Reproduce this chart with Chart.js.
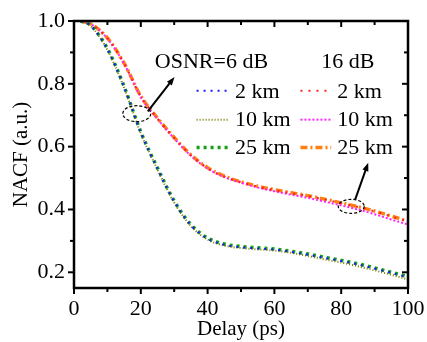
<!DOCTYPE html>
<html lang="en">
<head>
<meta charset="UTF-8">
<script src="https://cdn.jsdelivr.net/npm/chart.js@4.4.1/dist/chart.umd.min.js"></script>
<style>
  body{ margin:0; padding:0; background:white; }
  #wrap{ width:427px; height:342px; }
</style>
</head>
<body>
<div id="wrap"><canvas id="mychart"></canvas></div>
<script>
// delay axis (ps)
const delay = [2,5,10,15,20,25,30,35,40,45,50,55,60,65,70,75,80,85,90,95,100];
// OSNR = 6 dB
const osnr6_2km  = [1.0,0.985,0.91,0.79,0.645,0.53,0.425,0.35,0.307,0.288,0.280,0.276,0.272,0.265,0.256,0.246,0.236,0.225,0.212,0.198,0.184];
const osnr6_10km = [1.0,0.984,0.908,0.787,0.642,0.527,0.422,0.347,0.304,0.285,0.277,0.273,0.269,0.262,0.252,0.241,0.231,0.219,0.206,0.192,0.177];
const osnr6_25km = [1.0,0.986,0.912,0.792,0.647,0.532,0.427,0.352,0.309,0.290,0.282,0.278,0.274,0.267,0.258,0.248,0.238,0.227,0.214,0.200,0.186];
// OSNR = 16 dB
const osnr16_2km  = [1.0,0.99,0.945,0.865,0.76,0.69,0.628,0.573,0.532,0.505,0.487,0.473,0.462,0.452,0.443,0.432,0.420,0.408,0.394,0.378,0.362];
const osnr16_10km = [1.0,0.99,0.944,0.864,0.758,0.688,0.626,0.571,0.530,0.503,0.485,0.470,0.458,0.447,0.437,0.425,0.413,0.400,0.385,0.368,0.352];
const osnr16_25km = [1.0,0.991,0.946,0.866,0.761,0.691,0.629,0.574,0.533,0.506,0.488,0.474,0.463,0.453,0.444,0.433,0.421,0.409,0.395,0.379,0.363];
const xTicks = [0,20,40,60,80,100];
const yTicks = [0.2,0.4,0.6,0.8,1.0];

const FONT = "'Liberation Serif', 'Times New Roman', serif";

function pts(vals){ return delay.map((d,i)=>({x:d,y:vals[i]})); }
function ds(label, vals, color, width, dash){
  return { label, data: pts(vals), borderColor: color, borderWidth: width, borderDash: dash,
           pointRadius: 0, fill: false, cubicInterpolationMode: 'monotone' };
}
const sets = [
  ds('6 dB 2 km',  osnr6_2km,  '#1a1aff', 2, [2,5]),
  ds('6 dB 10 km', osnr6_10km, '#7a7a00', 2, [1,2]),
  ds('6 dB 25 km', osnr6_25km, '#13a013', 3.5, [3,4]),
  ds('16 dB 2 km',  osnr16_2km,  '#ff2020', 2, [2,6]),
  ds('16 dB 10 km', osnr16_10km, '#ff22ff', 2, [2,2]),
  ds('16 dB 25 km', osnr16_25km, '#ff8010', 3.5, [7,3,2,3])
];

const decor = {
  id: 'decor',
  afterDraw(chart){
    const ctx = chart.ctx, xs = chart.scales.x, ys = chart.scales.y, a = chart.chartArea;
    const X = v => xs.getPixelForValue(v), Y = v => ys.getPixelForValue(v);
    ctx.save();
    // frame
    ctx.strokeStyle = '#000'; ctx.lineWidth = 2.5; ctx.setLineDash([]);
    ctx.strokeRect(a.left, a.top, a.right - a.left, a.bottom - a.top);
    // ticks
    ctx.lineWidth = 2;
    for (let v = 0; v <= 100; v += 10){
      const p = X(v), L = v % 20 === 0 ? 6 : 4;
      ctx.beginPath(); ctx.moveTo(p, a.bottom); ctx.lineTo(p, a.bottom + L); ctx.stroke();
      ctx.beginPath(); ctx.moveTo(p, a.top); ctx.lineTo(p, a.top + L); ctx.stroke();
    }
    for (let v = 0.2; v <= 1.001; v += 0.1){
      const p = Y(v), L = Math.round(v*10) % 2 === 0 ? 6 : 4;
      ctx.beginPath(); ctx.moveTo(a.left, p); ctx.lineTo(a.left - L, p); ctx.stroke();
      ctx.beginPath(); ctx.moveTo(a.right, p); ctx.lineTo(a.right - L, p); ctx.stroke();
    }
    // headers
    ctx.fillStyle = '#000'; ctx.font = '22px ' + FONT; ctx.textBaseline = 'middle'; ctx.textAlign = 'left';
    ctx.fillText('OSNR=6 dB', X(24.2), Y(0.87));
    ctx.fillText('16 dB', X(74), Y(0.87));
    // legend rows
    const rows = [0.778, 0.686, 0.597];
    sets.forEach((s, i) => {
      const col = i < 3 ? 0 : 1, r = i % 3;
      const x0 = col ? X(67.8) : X(36.7), x1 = col ? X(77) : X(46), tx = col ? X(78.8) : X(48.2);
      const y = Y(rows[r]);
      ctx.strokeStyle = s.borderColor; ctx.lineWidth = s.borderWidth; ctx.setLineDash(s.borderDash);
      ctx.beginPath(); ctx.moveTo(x0, y); ctx.lineTo(x1, y); ctx.stroke();
      ctx.fillText(['2 km','10 km','25 km'][r], tx, y + 1);
    });
    // ellipses and arrows
    ctx.strokeStyle = '#000'; ctx.lineWidth = 1.2; ctx.setLineDash([3,2]);
    ctx.beginPath(); ctx.ellipse(X(18.8), Y(0.705), 14, 8, 0, 0, Math.PI*2); ctx.stroke();
    ctx.beginPath(); ctx.ellipse(X(83), Y(0.41), 13, 7, 0, 0, Math.PI*2); ctx.stroke();
    ctx.setLineDash([]); ctx.lineWidth = 2;
    function arrow(x0,y0,x1,y1){
      const ang = Math.atan2(y1-y0, x1-x0), h = 9;
      ctx.beginPath(); ctx.moveTo(x0,y0); ctx.lineTo(x1 - 4*Math.cos(ang), y1 - 4*Math.sin(ang)); ctx.stroke();
      ctx.beginPath(); ctx.moveTo(x1,y1);
      ctx.lineTo(x1 - h*Math.cos(ang-0.35), y1 - h*Math.sin(ang-0.35));
      ctx.lineTo(x1 - h*Math.cos(ang+0.35), y1 - h*Math.sin(ang+0.35));
      ctx.closePath(); ctx.fillStyle = '#000'; ctx.fill();
    }
    arrow(X(22.1), Y(0.712), X(30.1), Y(0.822));
    arrow(X(84.2), Y(0.432), X(88.1), Y(0.549));
    ctx.restore();
  }
};

const mychart = document.getElementById('mychart').getContext('2d');
const chart = new Chart(mychart, {
  type: 'line',
  data: { datasets: sets },
  options: {
    responsive: true, maintainAspectRatio: false, animation: false,
    layout: { padding: { top: 21, right: 19, left: 0, bottom: 0 } },
    plugins: { legend: { display: false }, tooltip: { enabled: false } },
    scales: {
      x: {
        type: 'linear', min: 0, max: 100,
        afterBuildTicks: s => { s.ticks = xTicks.map(v => ({ value: v })); },
        afterFit: s => { s.height = 54; s.paddingRight = 0; s.paddingLeft = 0; },
        grid: { display: false, drawTicks: false }, border: { display: false },
        ticks: { color: '#000', padding: 8, font: { family: FONT, size: 22 }, maxRotation: 0 },
        title: { display: true, text: 'Delay (ps)', color: '#000', padding: 0, font: { family: FONT, size: 21 } }
      },
      y: {
        type: 'linear', min: 0.15, max: 1.0,
        afterBuildTicks: s => { s.ticks = yTicks.map(v => ({ value: v })); },
        afterFit: s => { s.width = 74; s.paddingTop = 0; s.paddingBottom = 0; },
        grid: { display: false, drawTicks: false }, border: { display: false },
        ticks: { color: '#000', padding: 9, font: { family: FONT, size: 22 }, callback: v => v.toFixed(1) },
        title: { display: true, text: 'NACF (a.u.)', color: '#000', padding: { top: 9, bottom: 0 }, font: { family: FONT, size: 21 } }
      }
    }
  },
  plugins: [decor]
});
</script>
</body>
</html>
